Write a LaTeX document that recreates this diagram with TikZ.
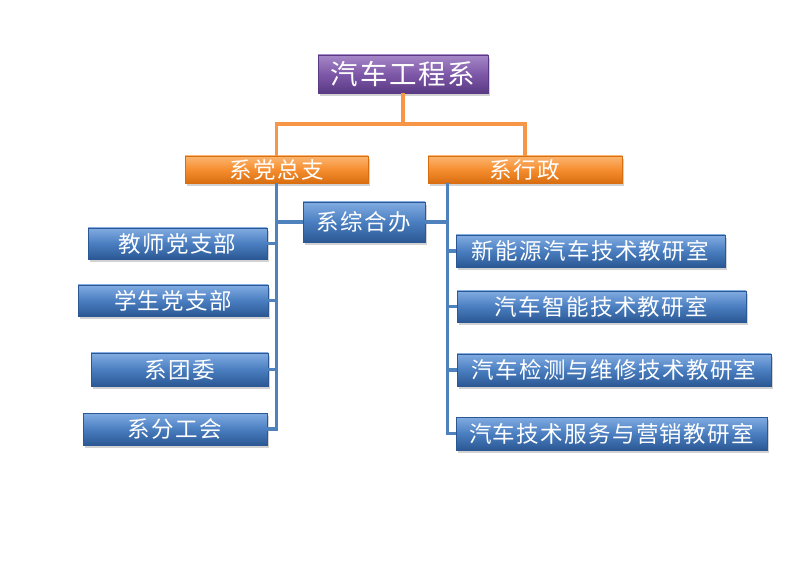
\documentclass[tikz,border=0pt]{standalone}
\usepackage{fontspec}
\usepackage{tikz}
\usetikzlibrary{shadows}
\newfontfamily\cjk[LetterSpace=6]{Noto Sans CJK SC}
\definecolor{org-violet}{HTML}{7E58A8}
\definecolor{org-violet-top}{HTML}{A688C8}
\definecolor{org-violet-bot}{HTML}{5A3A84}
\definecolor{org-orange}{HTML}{F68E30}
\definecolor{org-orange-top}{HTML}{FBB570}
\definecolor{org-orange-bot}{HTML}{D86E10}
\definecolor{org-blue}{HTML}{4A7EC0}
\definecolor{org-blue-top}{HTML}{82ACE2}
\definecolor{org-blue-bot}{HTML}{2B5894}
\definecolor{org-line-blue}{HTML}{4F81BD}
\definecolor{org-line-orange}{HTML}{F79646}
\tikzset{
  box/.style={rectangle, inner sep=0pt, text=white,
    font=\cjk\fontsize{22.5}{22.5}\selectfont,
    drop shadow={shadow xshift=2pt, shadow yshift=-3pt, opacity=0.35}},
  headbox/.style={box, draw=org-violet-bot, top color=org-violet-top, bottom color=org-violet-bot,
    middle color=org-violet, font=\cjk\fontsize{27.5}{27.5}\selectfont},
  orgbox/.style={box, draw=org-orange-bot, top color=org-orange-top, bottom color=org-orange-bot,
    middle color=org-orange},
  unitbox/.style={box, draw=org-blue-bot, top color=org-blue-top, bottom color=org-blue-bot,
    middle color=org-blue},
  orgline/.style={line width=3.2pt, color=org-line-orange},
  unitline/.style={line width=3.2pt, color=org-line-blue}
}

\begin{document}
\begin{tikzpicture}[x=1pt, y=-1pt, line join=miter]
    % frame
    \useasboundingbox[fill=white] (0,0) rectangle (798,577);

    % department
    \node[headbox, minimum width=170, minimum height=38] (xi) at (403,74) {汽车工程系};
    \coordinate (fork) at (403,124);

    % branches
    \node[orgbox, minimum width=183, minimum height=27] (dang) at (276.5,169.5) {系党总支};
    \node[orgbox, minimum width=194, minimum height=27] (xz) at (525,169.5) {系行政};

    % offices
    \node[unitbox, minimum width=122, minimum height=40] (zhb) at (364,222) {系综合办};
    \node[unitbox, minimum width=179, minimum height=31] (jsdz) at (177.5,243.5) {教师党支部};
    \node[unitbox, minimum width=190, minimum height=31] (xsdz) at (173,300.5) {学生党支部};
    \node[unitbox, minimum width=177, minimum height=33] (tw) at (179.5,369.5) {系团委};
    \node[unitbox, minimum width=184, minimum height=32] (fgh) at (175,429) {系分工会};
    \node[unitbox, minimum width=269, minimum height=32] (jys1) at (590.5,251) {新能源汽车技术教研室};
    \node[unitbox, minimum width=289, minimum height=31] (jys2) at (601.5,306.5) {汽车智能技术教研室};
    \node[unitbox, minimum width=314, minimum height=32] (jys3) at (614,370) {汽车检测与维修技术教研室};
    \node[unitbox, minimum width=311, minimum height=33] (jys4) at (611.5,433.5) {汽车技术服务与营销教研室};
    \coordinate (xzline) at ([xshift=20pt]xz.south west);

    % connectors
    \draw[orgline] (xi.south) -- (fork);
    \draw[orgline] (dang.north) |- (fork) -| (xz.north);
    \draw[unitline] (dang.south) |- (fgh.east);
    \foreach \u in {jsdz, xsdz, tw}
        \draw[unitline] (\u.east) -- (\u.east -| dang.south);
    \draw[unitline] (zhb.west) -- (zhb.west -| dang.south);
    \draw[unitline] (xzline) |- (jys4.west);
    \foreach \u in {jys1, jys2, jys3}
        \draw[unitline] (\u.west) -- (\u.west -| xzline);
    \draw[unitline] (zhb.east) -- (zhb.east -| xzline);

\end{tikzpicture}
\end{document}
